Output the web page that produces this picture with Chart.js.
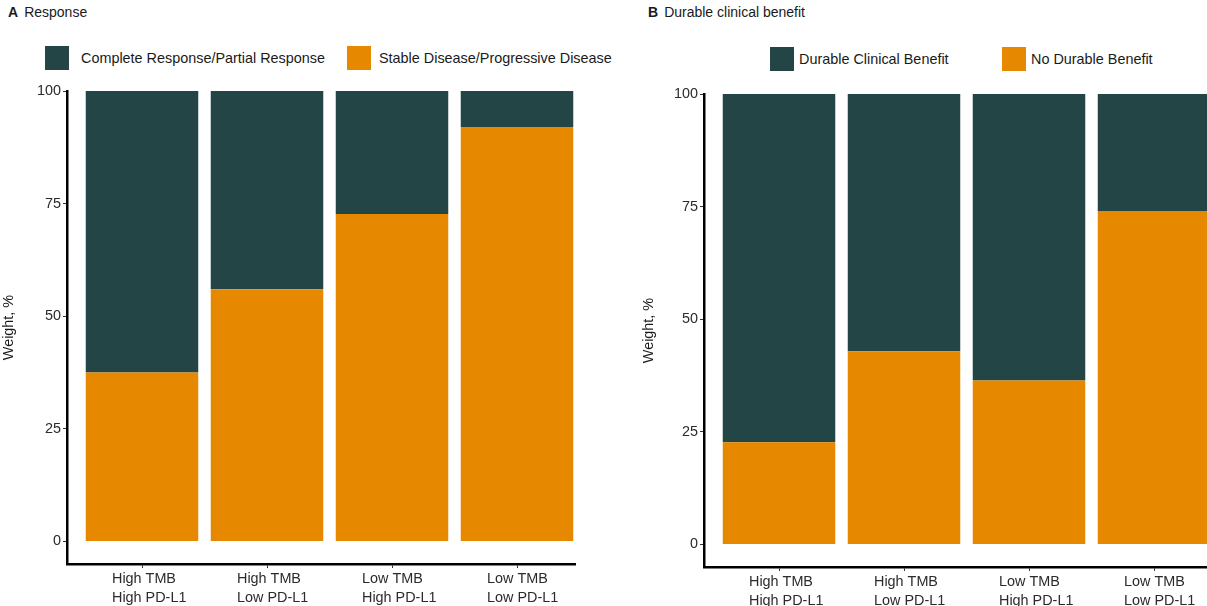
<!DOCTYPE html>
<html>
<head>
<meta charset="utf-8">
<script src="https://cdn.jsdelivr.net/npm/chart.js@4.4.1/dist/chart.umd.min.js"></script>
<style>
  html, body { margin: 0; padding: 0; background: #fff; overflow: hidden; }
  #page { position: relative; width: 1207px; height: 606px; overflow: hidden;
          font-family: "Liberation Sans", Arial, Helvetica, sans-serif; color: #1a1a1a; }
  .title { position: absolute; top: 4px; font-size: 14px; white-space: nowrap; }
  .title b { margin-right: 6px; }
  .key { position: absolute; font-size: 14.4px; white-space: nowrap; line-height: 24px; }
  .key i { position: absolute; top: 0; width: 24px; height: 24px; }
  .key span { position: absolute; top: 0; }
  .clip { position: absolute; top: 0; height: 606px; overflow: hidden; }
  canvas { position: absolute; top: 0; left: 0; }
</style>
</head>
<body>
<div id="page">
  <div class="title" style="left:8px"><b>A</b>Response</div>
  <div class="title" style="left:648px"><b>B</b>Durable clinical benefit</div>

  <div class="key" style="left:45px; top:46px"><i style="left:0; background:#234545"></i><span style="left:36px">Complete Response/Partial Response</span></div>
  <div class="key" style="left:347px; top:46px"><i style="left:0; background:#E68900"></i><span style="left:32px">Stable Disease/Progressive Disease</span></div>

  <div class="key" style="left:770px; top:47px"><i style="left:0; background:#234545"></i><span style="left:29px">Durable Clinical Benefit</span></div>
  <div class="key" style="left:1002px; top:47px"><i style="left:0; background:#E68900"></i><span style="left:29px">No Durable Benefit</span></div>

  <div class="clip" style="left:0; width:576px"><canvas id="chartA" width="640" height="606"></canvas></div>
  <div class="clip" style="left:640px; width:567px"><canvas id="chartB" width="640" height="606"></canvas></div>
</div>

<script>
// Groups shown on both panels
const categories = [
  ['High TMB', 'High PD-L1'],
  ['High TMB', 'Low PD-L1'],
  ['Low TMB', 'High PD-L1'],
  ['Low TMB', 'Low PD-L1']
];

// Panel A: response (% of patients)
const stableProgressive = [37.5, 56.0, 72.7, 92.0];
const completePartial   = [62.5, 44.0, 27.3, 8.0];

// Panel B: durable clinical benefit (% of patients)
const noDurableBenefit       = [22.7, 42.9, 36.4, 74.0];
const durableClinicalBenefit = [77.3, 57.1, 63.6, 26.0];

const yTicks = [0, 25, 50, 75, 100];
const yLimits = [-5, 100];

const GREEN = '#234545';
const ORANGE = '#E68900';
const FONT = '"Liberation Sans", Arial, Helvetica, sans-serif';

const positions = categories.map((_, i) => i + 1);

function toPoints(values) {
  return values.map((v, i) => ({ x: positions[i], y: v }));
}

function makePanel(canvasId, bottomValues, topValues, geom) {
  return new Chart(document.getElementById(canvasId), {
    type: 'bar',
    data: {
      datasets: [
        { data: toPoints(bottomValues), backgroundColor: ORANGE, barPercentage: 0.9, categoryPercentage: 1.0 },
        { data: toPoints(topValues), backgroundColor: GREEN, barPercentage: 0.9, categoryPercentage: 1.0 }
      ]
    },
    options: {
      responsive: false,
      animation: false,
      layout: { padding: { left: 0, top: geom.top, right: geom.right, bottom: 0 } },
      plugins: { legend: { display: false }, tooltip: { enabled: false } },
      scales: {
        x: {
          type: 'linear',
          stacked: true,
          min: 0.4,
          max: 4.6,
          offset: false,
          afterBuildTicks: s => { s.ticks = positions.map(v => ({ value: v })); },
          afterFit: s => { s.height = geom.xHeight; },
          border: { display: true, color: '#000', width: 2.5 },
          grid: { offset: false, drawOnChartArea: false, drawTicks: true, tickLength: 4, color: '#333', lineWidth: 1 },
          ticks: {
            callback: (v, i) => categories[i],
            align: 'start',
            labelOffset: -30,
            padding: 2,
            maxRotation: 0,
            autoSkip: false,
            color: '#2b2b2b',
            font: { family: FONT, size: 14.4, lineHeight: 1.32 }
          }
        },
        y: {
          stacked: true,
          min: yLimits[0],
          max: yLimits[1],
          afterBuildTicks: s => { s.ticks = yTicks.map(v => ({ value: v })); },
          afterFit: s => { s.width = geom.yWidth; },
          border: { display: true, color: '#000', width: 2.5 },
          grid: { drawOnChartArea: false, drawTicks: true, tickLength: 4, color: '#333', lineWidth: 1 },
          ticks: {
            padding: 2,
            color: '#2b2b2b',
            font: { family: FONT, size: 14.4 }
          },
          title: {
            display: true,
            text: 'Weight, %',
            padding: 0,
            color: '#1a1a1a',
            font: { family: FONT, size: 14.4 }
          }
        }
      }
    }
  });
}

makePanel('chartA', stableProgressive, completePartial, { top: 91, right: 48, yWidth: 67, xHeight: 42 });
makePanel('chartB', noDurableBenefit, durableClinicalBenefit, { top: 94, right: 51, yWidth: 64, xHeight: 39 });
</script>
</body>
</html>
